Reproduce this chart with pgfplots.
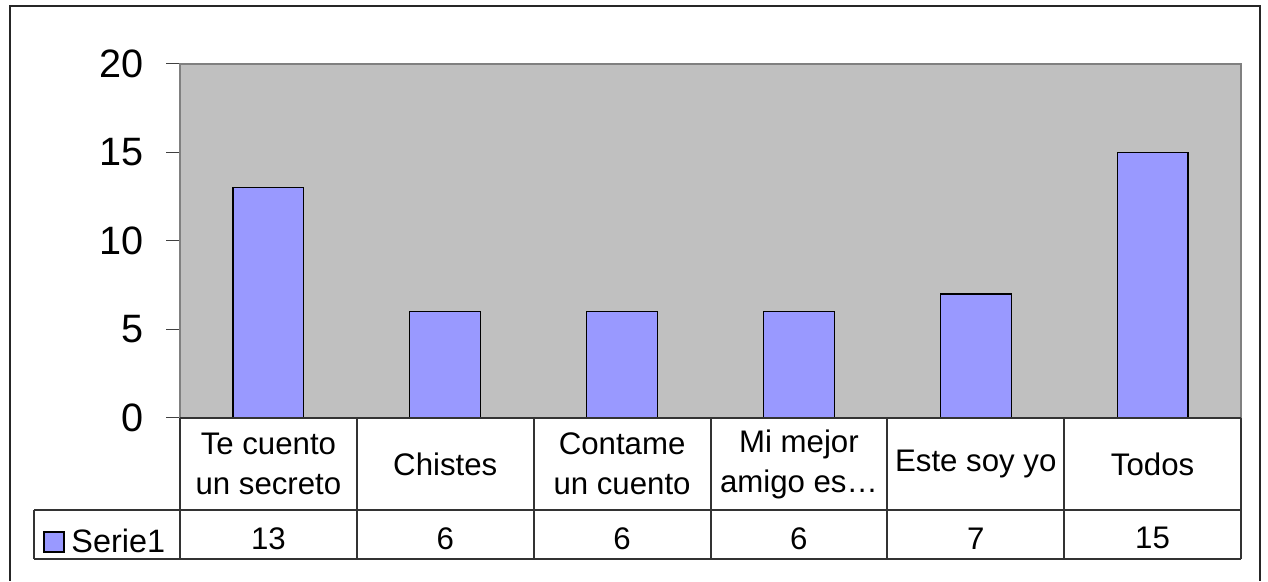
\documentclass[border=0pt]{standalone}
\usepackage{pgfplots}
\pgfplotsset{compat=1.18}
\usepackage{pgfplotstable}
\usepackage{fontspec}
\setmainfont{Liberation Sans}
\definecolor{plotgray}{HTML}{C0C0C0}
\definecolor{barblue}{HTML}{9999FF}
\pgfplotstableread{
x y
0 13
1 6
2 6
3 6
4 7
5 15
}\datatable
\begin{document}
\begin{tikzpicture}
\begin{axis}[
  at={(90pt,81.5pt)}, anchor=south west, scale only axis,
  width=530.5pt, height=177pt,
  xmin=-0.5, xmax=5.5, ymin=0, ymax=20,
  ytick={0,5,10,15,20},
  ytick pos=left,
  xtick={0,1,2,3,4,5},
  xticklabels={{Te cuento\\un secreto},{Chistes},{Contame\\un cuento},{Mi mejor\\amigo es…},{Este soy yo},{Todos}},
  x tick style={draw=none},
  y tick style={draw=black!75, line width=0.5pt},
  major tick length=7pt, tick align=outside,
  axis background/.style={fill=plotgray},
  axis line style={draw=black!50, line width=0.6pt},
  /pgf/number format/assume math mode=true,
  yticklabel style={font=\fontsize{19.8}{22}\selectfont, anchor=east, inner sep=0pt, xshift=-11pt},
  xticklabel style={font=\fontsize{15.6}{20}\selectfont, align=center, anchor=center, inner sep=0pt, yshift=-16pt},
  clip=false,
]
\addplot[ybar, bar width=0.4, fill=barblue, draw=black, line width=0.6pt] table[x=x,y=y] {\datatable};
\addplot[draw=none, mark=none, nodes near coords, point meta=explicit symbolic,
  every node near coord/.append style={anchor=center, font=\fontsize{15.6}{18}\selectfont, inner sep=0pt}]
  coordinates {(0,-6.8) [13] (1,-6.8) [6] (2,-6.8) [6] (3,-6.8) [6] (4,-6.8) [7] (5,-6.8) [15]};
\end{axis}
\begin{scope}[x=0.5pt,y=-0.5pt,yshift=290.5pt]
\draw[black!85, line width=0.6pt] (10,581) -- (10,6) -- (1260,6) -- (1260,581);
\draw[black!80, line width=0.6pt] (34,510) -- (1241,510);
\draw[black!80, line width=0.6pt] (34,559) -- (1241,559);
\draw[black!80, line width=0.6pt] (34,510) -- (34,559);
\draw[black!80, line width=0.6pt] (180,418) -- (1241,418);
\foreach \xx in {180,357,534,711,887,1064,1241}
  \draw[black!80, line width=0.6pt] (\xx,418) -- (\xx,559);
\draw[black, line width=0.6pt, fill=barblue] (44,532) rectangle (64,552);
\node[anchor=west, inner sep=0pt, font=\fontsize{16.2}{18}\selectfont] at (71,541) {Serie1};
\path[use as bounding box] (0,0) rectangle (1268,581);
\end{scope}
\end{tikzpicture}
\end{document}
